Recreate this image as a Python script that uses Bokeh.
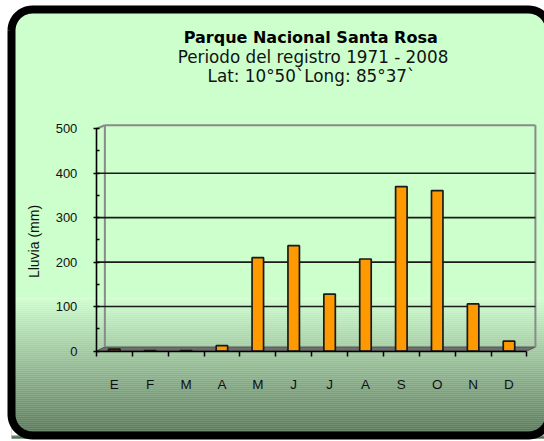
import numpy as np
from bokeh.plotting import figure
from bokeh.models import Range1d, LinearAxis, FixedTicker, Label
from bokeh.embed import file_html
from bokeh.resources import INLINE

# ---------------- data ----------------
months = ["E", "F", "M", "A", "M", "J", "J", "A", "S", "O", "N", "D"]
rain_mm = [4, 1, 1, 12, 210, 237, 128, 207, 370, 361, 106, 22]
y_ticks = [0, 100, 200, 300, 400, 500]
y_minor_ticks = [50, 150, 250, 350, 450]
grid_values = [100, 200, 300, 400]
title_text = "Parque Nacional  Santa Rosa"
subtitle_1 = "Periodo del registro 1971 - 2008"
subtitle_2 = "Lat: 10°50`Long: 85°37`"
y_label_text = "Lluvia (mm)"

# ---------------- geometry (page pixels) ----------------
W, H = 544, 441
OX, OY = 0, 0
X0, S = 113.8, 35.88      # page x of first category centre, px per category
Y0, K = 350.5, 0.4445     # page y of value 0, px per mm

x_start = (OX - X0) / S
x_end = (OX + W - X0) / S
y_end = (Y0 - OY) / K
y_start = (Y0 - (OY + H)) / K


def dx(X):
    return (X - X0) / S


def dy(Y):
    return (Y0 - Y) / K


p = figure(width=W, height=H, x_range=Range1d(x_start, x_end),
           y_range=Range1d(y_start, y_end), output_backend="svg",
           toolbar_location=None, min_border=0, x_axis_type=None,
           y_axis_type=None)
p.outline_line_color = None
p.background_fill_color = "white"
p.border_fill_color = "white"

# ---------------- background with gradient ----------------
L, T, R, B, RAD = 11.0, 9.0, 549.0, 435.0, 21.0
top_col = np.array([0xCC, 0xFF, 0xCC], dtype=float)
bot_col = np.array([0x56, 0x74, 0x56], dtype=float)
g0, g1 = 298.0, 437.0
p.quad(left=[dx(L)], right=[dx(R)], top=[dy(T)], bottom=[dy(g0)],
       fill_color="#CCFFCC", line_color=None)
bands = np.arange(g0, g1, 2.0)
cols = []
for yb in bands:
    t = (yb + 1 - g0) / (g1 - g0)
    c = top_col + (bot_col - top_col) * t
    cols.append("#%02x%02x%02x" % tuple(int(round(v)) for v in c))
p.quad(left=[dx(L)] * len(bands), right=[dx(R)] * len(bands),
       top=[dy(b) for b in bands], bottom=[dy(b + 2.2) for b in bands],
       fill_color=cols, line_color=None)


def arc(cx, cy, a0, a1, n=14):
    a = np.linspace(np.radians(a0), np.radians(a1), n)
    return list(cx + RAD * np.cos(a)), list(cy + RAD * np.sin(a))


corners = [
    ((L, T), arc(L + RAD, T + RAD, 180, 270)),
    ((R, T), arc(R - RAD, T + RAD, 270, 360)),
    ((R, B), arc(R - RAD, B - RAD, 0, 90)),
    ((L, B), arc(L + RAD, B - RAD, 90, 180)),
]
mask_xs, mask_ys = [], []
for (cx, cy), (ax, ay) in corners:
    xs = [cx] + ax
    ys = [cy] + ay
    mask_xs.append([dx(v) for v in xs])
    mask_ys.append([dy(v) for v in ys])
p.patches(mask_xs, mask_ys, fill_color="white", line_color=None)

bx, by = [], []
for (cx, cy), (ax, ay) in corners:
    bx += ax
    by += ay
bx.append(bx[0])
by.append(by[0])
p.line([dx(v) for v in bx], [dy(v) for v in by], line_color="black",
       line_width=8)

# ---------------- 3D frame: floor, walls, gridlines ----------------
depth_px, lift_px = 8.5, 4.0
x_left, x_right = -0.5, len(months) - 0.5
floor_x = [x_left, x_right, x_right + depth_px / S, x_left + depth_px / S]
floor_y = [0, 0, lift_px / K, lift_px / K]
p.patch(floor_x, floor_y, fill_color="#6e6e6e", line_color="#555555",
        line_width=1)

back_left = x_left + depth_px / S
back_right = x_right + depth_px / S
top_v = y_ticks[-1]
wall_col = "#8a8a8a"
p.segment(x0=[back_left, back_right, back_left, x_left],
          y0=[lift_px / K, lift_px / K, top_v + 3.5 / K, top_v],
          x1=[back_left, back_right, back_right, back_left],
          y1=[top_v + 3.5 / K, top_v + 3.5 / K, top_v + 3.5 / K, top_v + 3.5 / K],
          line_color=wall_col, line_width=2)
p.segment(x0=[x_left] * len(grid_values), y0=grid_values,
          x1=[back_right] * len(grid_values), y1=grid_values,
          line_color="#1a1a1a", line_width=1.6)

# ---------------- bars ----------------
idx = list(range(len(months)))
p.vbar(x=idx, top=rain_mm, bottom=0, width=0.32, fill_color="#FF9900",
       line_color="#1a1a1a", line_width=1.7)

# ---------------- axes ----------------
yaxis = LinearAxis(fixed_location=x_left,
                   ticker=FixedTicker(ticks=y_ticks, minor_ticks=y_minor_ticks),
                   bounds=(y_ticks[0], y_ticks[-1]))
yaxis.axis_line_color = "black"
yaxis.axis_line_width = 1.6
yaxis.major_tick_line_color = "black"
yaxis.major_tick_line_width = 1.5
yaxis.major_tick_in = 3
yaxis.major_tick_out = 3
yaxis.minor_tick_line_color = "black"
yaxis.minor_tick_line_width = 1.5
yaxis.minor_tick_in = 3
yaxis.minor_tick_out = 0
yaxis.major_label_standoff = 16
yaxis.major_label_text_font = "Liberation Sans"
yaxis.major_label_text_font_size = "13px"
yaxis.major_label_text_color = "#111111"
p.add_layout(yaxis, "left")

xaxis = LinearAxis(fixed_location=0,
                   ticker=FixedTicker(ticks=idx,
                                      minor_ticks=[i - 0.5 for i in range(len(months) + 1)]),
                   bounds=(x_left, x_right))
xaxis.major_label_overrides = {i: m for i, m in enumerate(months)}
xaxis.axis_line_color = "black"
xaxis.axis_line_width = 1.6
xaxis.major_tick_in = 0
xaxis.major_tick_out = 0
xaxis.minor_tick_line_color = "black"
xaxis.minor_tick_line_width = 1.5
xaxis.minor_tick_in = 0
xaxis.minor_tick_out = 5
xaxis.major_label_standoff = 21
xaxis.major_label_text_font = "Liberation Sans"
xaxis.major_label_text_font_size = "13.5px"
xaxis.major_label_text_color = "#111111"
p.add_layout(xaxis, "below")

# ---------------- texts ----------------
p.add_layout(Label(x=dx(313), y=dy(36.7), text=title_text, text_align="center",
                   text_baseline="middle", text_font="DejaVu Sans",
                   text_font_style="bold", text_font_size="16px",
                   text_color="black"))
p.add_layout(Label(x=dx(312.5), y=dy(56.7), text=subtitle_1, text_align="center",
                   text_baseline="middle", text_font="DejaVu Sans",
                   text_font_size="16.8px", text_color="#111111"))
p.add_layout(Label(x=dx(311), y=dy(75.5), text=subtitle_2, text_align="center",
                   text_baseline="middle", text_font="DejaVu Sans",
                   text_font_size="16.8px", text_color="#111111"))
p.add_layout(Label(x=dx(33.5), y=dy(241), text=y_label_text, angle=np.pi / 2,
                   text_align="center", text_baseline="middle",
                   text_font="Liberation Sans", text_font_size="14px",
                   text_color="#111111"))

open("out.html", "w").write(file_html(p, INLINE))
